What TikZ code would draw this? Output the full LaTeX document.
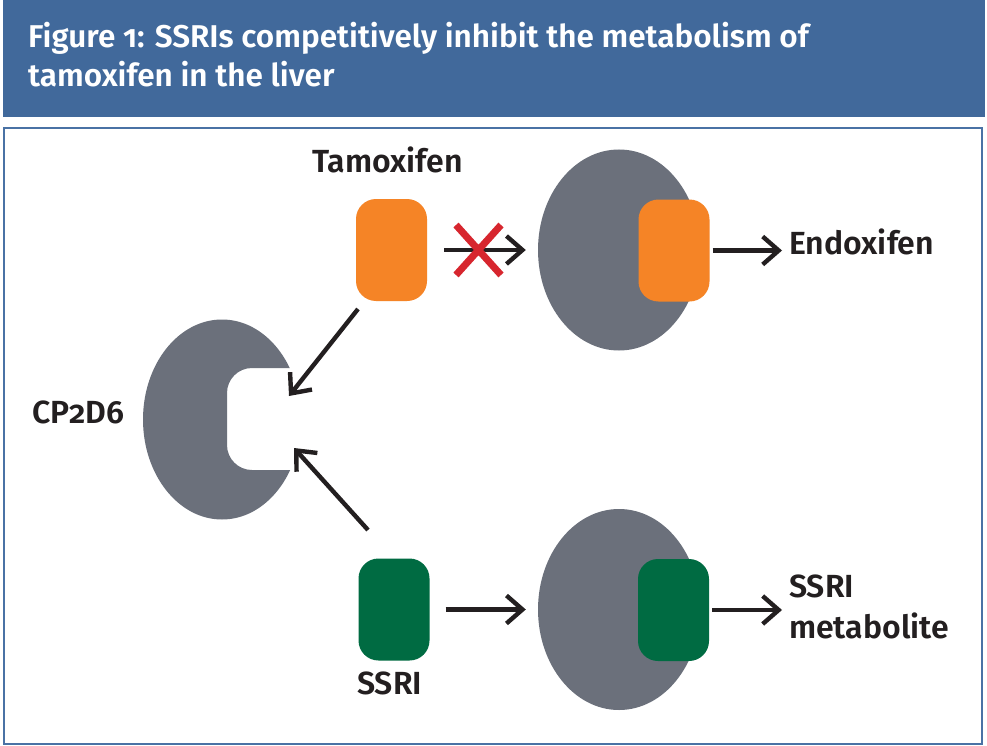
\documentclass[tikz,border=0pt]{standalone}
\usepackage{fontspec}
\setmainfont{Fira Sans SemiBold}[Numbers=OldStyle]
\usetikzlibrary{arrows.meta,shapes.geometric}
\definecolor{hdr}{HTML}{41699B}
\definecolor{frm}{HTML}{4A72A5}
\definecolor{enz}{HTML}{6B707B}
\definecolor{tamc}{HTML}{F58426}
\definecolor{ssric}{HTML}{006B42}
\definecolor{xred}{HTML}{D7262E}
\definecolor{ink}{HTML}{231F20}
\begin{document}
\begin{tikzpicture}[x=1pt,y=-1pt,
 drug/.style={rectangle,rounded corners=20pt,minimum width=71pt,minimum height=102pt,inner sep=0pt},
 enzyme/.style={ellipse,fill=enz,minimum width=162pt,minimum height=201pt,inner sep=0pt},
 flow/.style={draw=ink,line width=4.4pt,-{Straight Barb[length=16pt,width=28pt]}},
 lbl/.style={text=ink,font=\fontsize{32}{38}\selectfont,inner sep=0pt,anchor=base west},
 ttl/.style={text=white,font=\fontsize{31.5}{38}\selectfont,inner sep=0pt,anchor=base west}]
\useasboundingbox (0,0) rectangle (987,746);
\fill[white] (0,0) rectangle (987,746);
\fill[hdr] (3,0) rectangle (985,117);
\draw[frm,line width=2pt] (4,128) rectangle (982,744);
% title
\node[ttl] (title1) at (28,48) {Figure 1: SSRIs competitively inhibit the metabolism of};
\node[ttl] (title2) at (28,87) {tamoxifen in the liver};
% CYP2D6 crescent
\begin{scope}
\clip (222,419.5) ellipse [x radius=79pt, y radius=100pt];
\fill[enz,even odd rule] (222,419.5) ellipse [x radius=90pt, y radius=110pt]
  {[rounded corners=25pt] (227,368) rectangle (340,470)};
\end{scope}
\coordinate (cyp) at (222,419.5);
\node[lbl] (cyplbl) at (32,423) {CP2D6};
% enzymes
\node[enzyme] (enz1) at (619,250) {};
\node[enzyme] (enz2) at (619,609.5) {};
% drugs
\node[drug,fill=tamc] (tam) at (391.5,250) {};
\node[drug,fill=tamc] (in1) at (674,250.5) {};
\node[drug,fill=ssric] (ssri) at (394,609.5) {};
\node[drug,fill=ssric] (in2) at (673.5,610) {};
% labels
\node[lbl] (tamlbl) at (312,173) {Tamoxifen};
\node[lbl] (endox) at (789,254) {Endoxifen};
\node[lbl] (ssrilbl) at (357,694) {SSRI};
\node[lbl] (met1) at (789,597) {SSRI};
\node[lbl] (met2) at (789,638) {metabolite};
% connectors
\coordinate (a1s) at (358,309);
\coordinate (a1e) at (289,396);
\coordinate (a2s) at (368,530);
\coordinate (a2e) at (294,448);
\draw[flow] (a1s) -- (a1e);
\draw[flow] (a2s) -- (a2e);
\draw[flow] ([xshift=17pt]tam.east) -- ([xshift=-12pt]enz1.west);
\draw[flow] ([xshift=3pt]in1.east) -- ([xshift=-7pt]in1.east -| endox.west);
\draw[flow] ([xshift=16pt]ssri.east) -- ([xshift=-12pt]enz2.west);
\draw[flow] ([xshift=3pt]in2.east) -- ([xshift=-7pt]in2.east -| met1.west);
% red cross
\draw[xred,line width=7pt] (456,225) -- (501,275) (501,225) -- (456,275);
\end{tikzpicture}
\end{document}
